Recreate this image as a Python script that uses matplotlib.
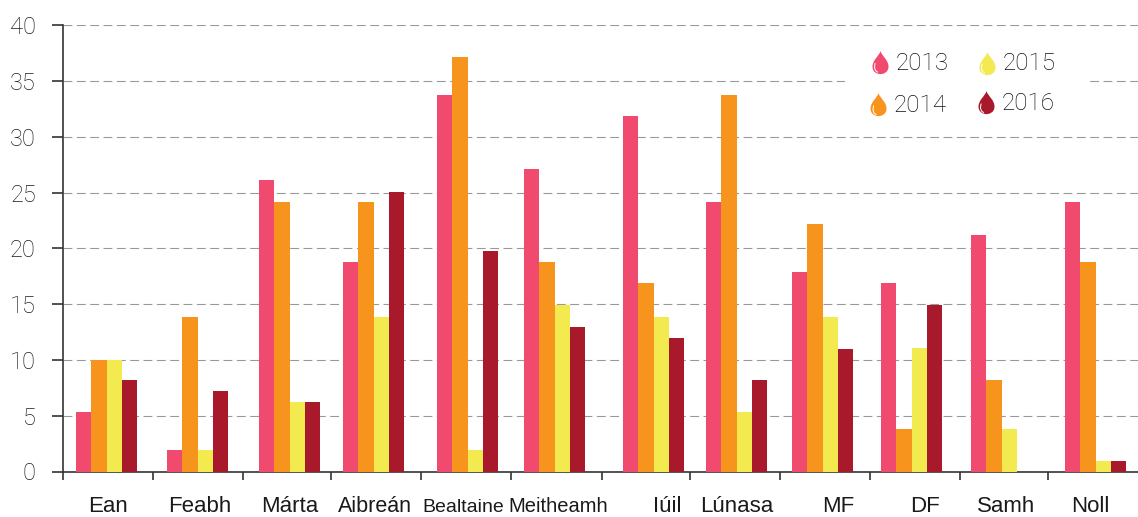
import matplotlib
matplotlib.use('Agg')
import matplotlib.pyplot as plt
from matplotlib.path import Path

months = ['Ean', 'Feabh', 'Márta', 'Aibreán', 'Bealtaine', 'Meitheamh', 'Iúil', 'Lúnasa', 'MF', 'DF', 'Samh', 'Noll']
y2013 = [5.3, 1.9, 26.1, 18.8, 33.8, 27.1, 31.9, 24.2, 17.9, 16.9, 21.2, 24.2]
y2014 = [10, 13.9, 24.2, 24.2, 37.2, 18.8, 16.9, 33.8, 22.2, 3.8, 8.2, 18.8]
y2015 = [10, 1.9, 6.2, 13.9, 1.9, 14.9, 13.9, 5.3, 13.9, 11.1, 3.8, 0.9]
y2016 = [8.2, 7.2, 6.2, 25.1, 19.8, 13, 12, 8.2, 11, 14.9, 0, 0.9]
years = ['2013', '2014', '2015', '2016']
colours = ['#f04b6e', '#f7941d', '#f2ea4e', '#a81a2b']

# the groups are not evenly spaced in the original, x axis is in pixels
group_left = [76, 167, 259, 343, 437, 524, 623, 706, 792, 881, 971, 1065]
tick_x = [63, 153, 243, 331, 421, 511, 602, 690, 780, 870, 960, 1048]
label_x = [108, 199.5, 290, 374.5, 463, 558, 667, 737, 838, 925, 1006, 1090]
label_size = [16, 16, 16, 15.5, 14, 14.5, 16, 16, 16, 16, 16, 16]
bar_w = 15.3

drop = Path([(0, 1), (-0.1, 0.6), (-0.64, 0.3), (-0.64, -0.25), (-0.64, -0.7), (-0.25, -0.85), (0, -0.85),
             (0.25, -0.85), (0.64, -0.7), (0.64, -0.25), (0.64, 0.3), (0.1, 0.6), (0, 1)],
            [Path.MOVETO] + [Path.CURVE4] * 12)

plt.rcParams['font.family'] = ['Roboto', 'DejaVu Sans']

fig = plt.figure(figsize=(11.38, 5.17), dpi=100)
ax = fig.add_axes([63 / 1138, 1 - 471.5 / 517, (1138 - 63) / 1138, 446 / 517])

series = [y2013, y2014, y2015, y2016]
for i in range(4):
    xs = [g + bar_w * i for g in group_left]
    ax.bar(xs, series[i], width=bar_w, align='edge', color=colours[i], zorder=3)

ax.set_xlim(63, 1138)
ax.set_ylim(0, 40)
ax.set_yticks(range(0, 41, 5))
ax.yaxis.grid(True, color='#999999', linestyle=(0, (8, 4)), linewidth=0.8, zorder=1)
ax.tick_params(axis='y', length=8, width=1.2, color='#333333', labelsize=17, labelcolor='#1c1c1c', pad=11.5)
for t in ax.get_yticklabels():
    t.set_fontweight('light')
ax.set_xticks(tick_x)
ax.set_xticklabels([])
ax.tick_params(axis='x', length=6, width=1.2, color='#333333')

for s in ['top', 'right']:
    ax.spines[s].set_visible(False)
for s in ['left', 'bottom']:
    ax.spines[s].set_linewidth(1.2)
    ax.spines[s].set_color('#333333')

# overlay in pixel coordinates for month labels and the legend
over = fig.add_axes([0, 0, 1, 1], facecolor='none', zorder=6)
over.set_xlim(0, 1138)
over.set_ylim(517, 0)
over.axis('off')

for i in range(12):
    over.text(label_x[i], 512, months[i], fontsize=label_size[i], color='#1a1a1a', ha='center', va='baseline',
              family=['Liberation Sans', 'DejaVu Sans'])

# white box breaks the grid line behind the legend
over.add_patch(plt.Rectangle((845, 45), 242, 80, facecolor='white', edgecolor='none'))
leg_x = [880, 878.5, 987, 986]
leg_y = [62.5, 105, 63.5, 103]
text_x = [896, 894, 1003, 1002]
text_y = [64, 105.5, 64, 103.5]
for i in range(4):
    over.scatter([leg_x[i]], [leg_y[i]], marker=drop, s=324, color=colours[i], linewidths=0)
    # small white shine on the drop
    over.plot([leg_x[i] - 5, leg_x[i] - 5.5, leg_x[i] - 4.5, leg_x[i] - 2.5],
              [leg_y[i] + 1, leg_y[i] + 5, leg_y[i] + 8, leg_y[i] + 9.5], color='white', linewidth=0.7)
    over.text(text_x[i], text_y[i], years[i], fontsize=17.5, fontweight='light', color='#111111', va='center', ha='left')

over.set_xlim(0, 1138)
over.set_ylim(517, 0)
fig.savefig('out.png', dpi=100)
